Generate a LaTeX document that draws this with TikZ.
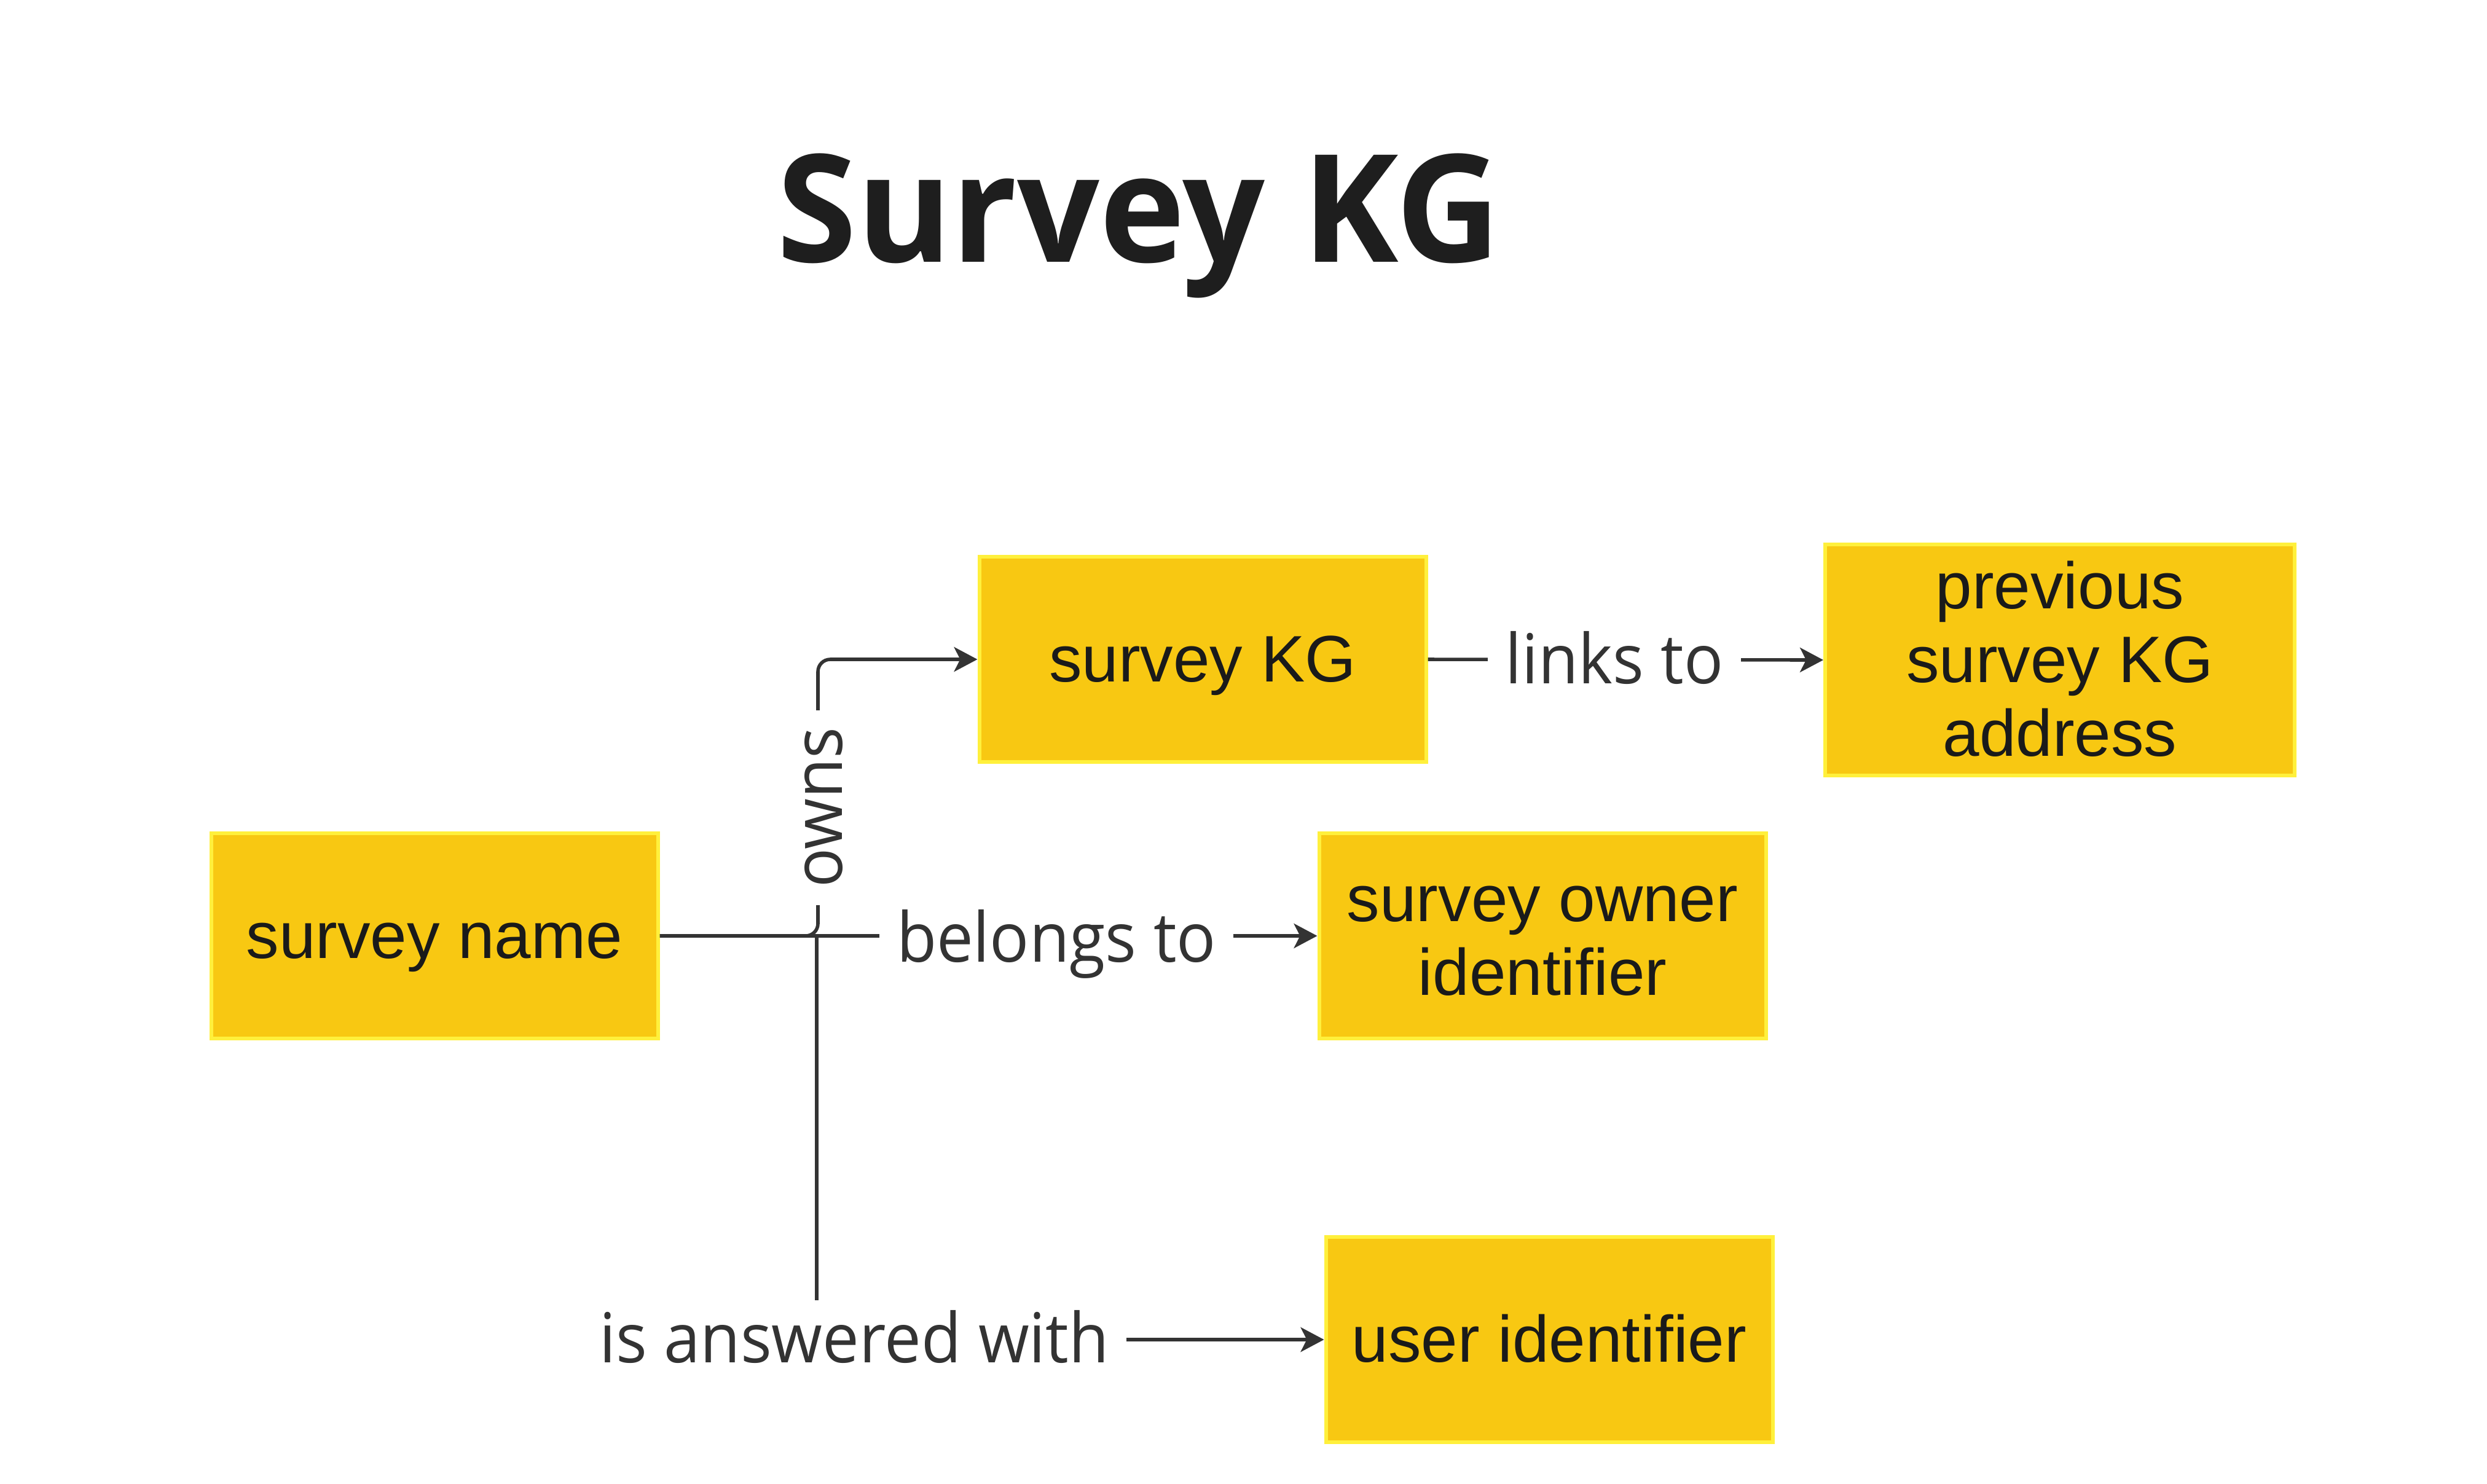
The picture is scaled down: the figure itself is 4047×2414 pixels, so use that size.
\documentclass[tikz,border=0pt]{standalone}
\usepackage{fontspec}
\setmainfont{Liberation Sans}
\newfontfamily\lblfont[FakeStretch=0.95]{Open Sans}
\newfontfamily\ttlfont[FakeStretch=0.965]{Open Sans}
\usetikzlibrary{arrows.meta}
\definecolor{boxfill}{RGB}{248,200,18}
\definecolor{boxline}{RGB}{255,240,60}
\definecolor{linegray}{RGB}{51,51,51}
\definecolor{boxtext}{RGB}{26,26,26}
\definecolor{titlecol}{RGB}{30,30,30}
\newcommand{\bst}{\rule[-0.2em]{0pt}{1.08em}}
\begin{document}
\begin{tikzpicture}[x=0.25pt,y=-0.25pt,
  kbox/.style={draw=boxline, line width=1.5pt, fill=boxfill, text=boxtext,
    minimum width=181.75pt, minimum height=83.5pt, inner sep=0pt, align=center,
    font=\fontsize{26.75pt}{29pt}\selectfont},
  conn/.style={draw=linegray, line width=1.4pt},
  arr/.style={conn, -{Stealth[length=9.5pt,width=10pt,inset=2.5pt]}},
  lbl/.style={fill=white, text=linegray, font=\lblfont\fontsize{28pt}{32pt}\selectfont,
    inner xsep=7pt, inner ysep=4pt},
]
\useasboundingbox (0,0) rectangle (4047,2414);
\node[font=\ttlfont\bfseries\fontsize{61pt}{70pt}\selectfont, text=titlecol, anchor=base, inner sep=0pt] (title) at (1853,426) {Survey KG};

\node[kbox] (sn) at (707,1523) {\bst survey name};
\node[kbox] (kg) at (1957,1073) {\bst survey KG};
\node[kbox, minimum width=191pt, minimum height=94pt] (prev) at (3352,1074) {\bst previous\\\bst survey KG\\\bst address};
\node[kbox] (so) at (2510,1523) {\bst survey owner\\\bst identifier};
\node[kbox] (ui) at (2521,2180) {\bst user identifier};

\coordinate (j) at (1331,1523);
\coordinate (jo) at (1331,1073);
\coordinate (ja0) at (1329,1523);
\coordinate (ja) at (1329,2180);

\draw[arr, rounded corners=5pt] (sn.east) -- (j) -- (jo) -- (kg.west);
\draw[arr] (sn.east) -- (so.west);
\draw[arr] (sn.east) -- (ja0) -- (ja) -- (ui.west);
\draw[arr] (kg.east) -- (prev.west);

\node[lbl, rotate=90] (lowns) at (1341,1314) {owns};
\node[lbl, anchor=base] (lbel) at (1719,1565) {belongs to};
\node[lbl, anchor=base] (llink) at (2627,1112) {links to};
\node[lbl, anchor=base] (lans) at (1390,2217) {is answered with};
\end{tikzpicture}
\end{document}
